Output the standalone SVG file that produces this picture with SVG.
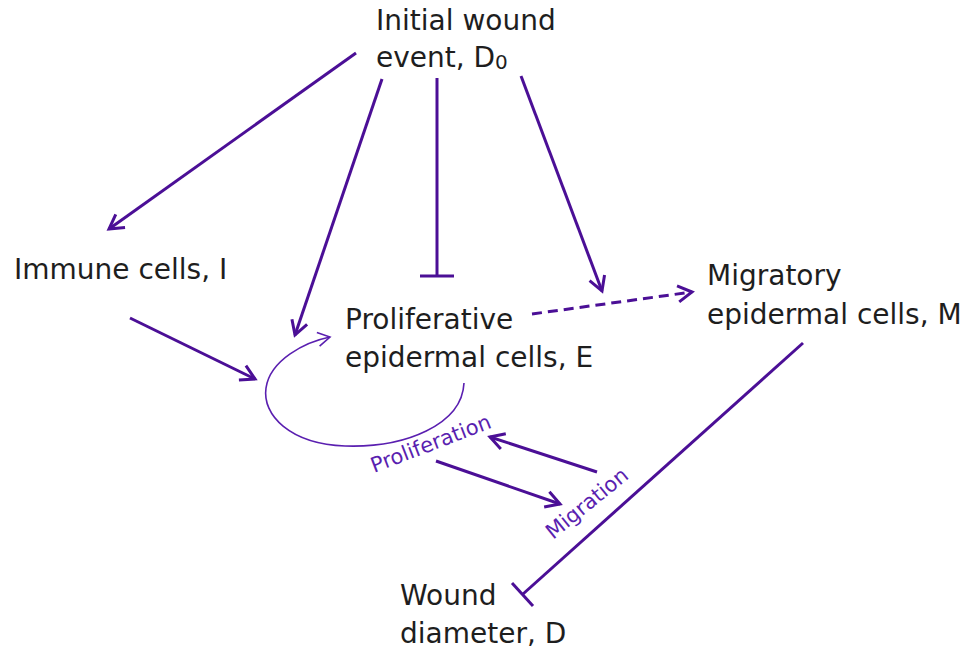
<svg xmlns="http://www.w3.org/2000/svg" width="971" height="659" viewBox="0 0 971 659">
<style>
.t{font-family:"DejaVu Sans","Liberation Sans",sans-serif;font-size:28px;fill:#1e1e1e}
.l{font-family:"DejaVu Sans","Liberation Sans",sans-serif;font-size:21px;fill:#5a1fb0}
.c{stroke:#4b0f96;stroke-width:3;fill:none}
.thin{stroke:#5a1fb0;stroke-width:1.6;fill:none}
</style>
<defs>
<marker id="ah" markerUnits="userSpaceOnUse" markerWidth="20" markerHeight="20" viewBox="-16 -10 20 20" refX="0" refY="0" orient="auto">
<path d="M-14,-8 L0,0 L-14,8" fill="none" stroke="#4b0f96" stroke-width="3"/>
</marker>
<marker id="ahs" markerUnits="userSpaceOnUse" markerWidth="20" markerHeight="20" viewBox="-16 -10 20 20" refX="0" refY="0" orient="auto">
<path d="M-12,-7 L0,0 L-12,7" fill="none" stroke="#5a1fb0" stroke-width="1.6"/>
</marker>
</defs>
<rect width="971" height="659" fill="#fff"/>
<g id="connectors">
<line class="c" x1="356" y1="53" x2="109" y2="229" marker-end="url(#ah)"/>
<line class="c" x1="382" y1="79" x2="295" y2="335" marker-end="url(#ah)"/>
<line class="c" x1="437" y1="78" x2="437" y2="276"/>
<line class="c" x1="420" y1="276" x2="454" y2="276"/>
<line class="c" x1="521" y1="76" x2="602" y2="291" marker-end="url(#ah)"/>
<line class="c" x1="532" y1="314" x2="692" y2="292" stroke-dasharray="10,6" marker-end="url(#ah)"/>
<line class="c" x1="130" y1="318" x2="255" y2="379" marker-end="url(#ah)"/>
<path class="thin" d="M464,383 C462,425 405,448 345,446 C290,444 262,415 266,388 C270,360 305,342 330,337" marker-end="url(#ahs)"/>
<line class="c" x1="597" y1="472" x2="490" y2="437" marker-end="url(#ah)"/>
<line class="c" x1="436" y1="461" x2="560" y2="504" marker-end="url(#ah)"/>
<line class="c" x1="803" y1="343" x2="523" y2="594"/>
<line class="c" x1="512" y1="583" x2="533" y2="606"/>
<text class="l" transform="translate(374,473) rotate(-21)">Proliferation</text>
<text class="l" transform="translate(553,540) rotate(-39)">Migration</text>
</g>
<g id="initial">
<text class="t" x="376" y="30">Initial wound</text>
<text class="t" x="376" y="67">event, D<tspan font-size="20" dy="2">0</tspan></text>
</g>
<g id="immune">
<text class="t" x="14" y="279">Immune cells, I</text>
</g>
<g id="proliferative">
<text class="t" x="345" y="329">Proliferative</text>
<text class="t" x="345" y="367">epidermal cells, E</text>
</g>
<g id="migratory">
<text class="t" x="707" y="285">Migratory</text>
<text class="t" x="707" y="324">epidermal cells, M</text>
</g>
<g id="wound">
<text class="t" x="400" y="605">Wound</text>
<text class="t" x="400" y="643">diameter, D</text>
</g>
</svg>
